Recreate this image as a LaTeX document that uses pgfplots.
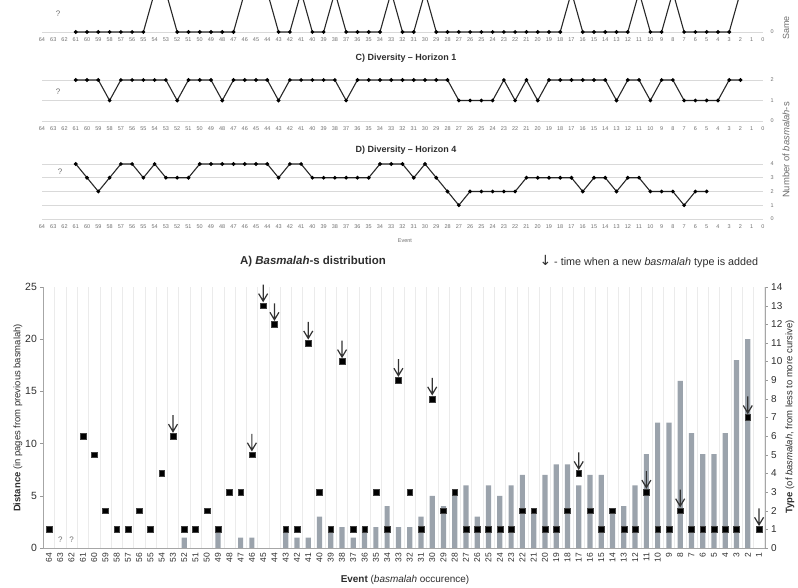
\documentclass[border=0pt]{standalone}
\usepackage{fontspec}
\setmainfont{Liberation Sans}
\newfontfamily\djv{DejaVu Sans}
\usepackage{pgfplots}
\pgfplotsset{compat=1.18}
\definecolor{bargray}{RGB}{155,163,172}
\definecolor{tickgray}{RGB}{110,110,110}
\definecolor{linegray}{RGB}{40,40,40}
\definecolor{txt}{RGB}{45,45,45}
\pgfdeclareplotmark{newtype}{%
 \pgfpathmoveto{\pgfpoint{0bp}{4.5bp}}\pgfpathlineto{\pgfpoint{0bp}{21bp}}%
 \pgfpathmoveto{\pgfpoint{-4.5bp}{12bp}}\pgfpathlineto{\pgfpoint{0bp}{4.5bp}}\pgfpathlineto{\pgfpoint{4.5bp}{12bp}}%
 \pgfusepathqstroke}
\pgfplotsset{
 toppanel/.style={scale only axis, width=721bp, xmin=0, xmax=64, x dir=reverse,
   axis line style={draw=none}, major tick length=0pt,
   xtick={0,...,64}, xticklabel style={font=\fontsize{5.5}{6}\selectfont, text=tickgray, inner sep=1.5bp},
   yticklabel pos=right, yticklabel style={font=\fontsize{5.5}{6}\selectfont, text=tickgray, xshift=4bp},
   ymajorgrids, grid style={black!15, line width=0.6bp},
   /pgf/number format/assume math mode=true,
   anchor=south west},
 topline/.style={linegray, line width=1.1bp, mark=*, mark size=1.3bp, mark options={fill=black, draw=black}},
 bottompanel/.style={scale only axis, width=721.3bp, height=261bp, at={(43.4bp,40bp)}, anchor=south west,
   xmin=0.5, xmax=64.5, x dir=reverse, /pgf/number format/assume math mode=true}
}
\begin{document}
\begin{tikzpicture}
\path[use as bounding box] (0,0) rectangle (798bp,588bp);
% ---------- B) Same
\begin{axis}[toppanel, at={(42bp,552bp)}, height=44bp, ymin=-0.1, ymax=1, ytick={0}]
\addplot[topline] coordinates {(61,0)(60,0)(59,0)(58,0)(57,0)(56,0)(55,0)(54,1)(53,1)(52,0)(51,0)(50,0)(49,0)(48,0)(47,0)(46,1)(45,1)(44,1)(43,0)(42,0)(41,1)(40,0)(39,0)(38,1)(37,0)(36,0)(35,0)(34,0)(33,1)(32,0)(31,0)(30,1)(29,0)(28,0)(27,0)(26,0)(25,0)(24,0)(23,0)(22,0)(21,0)(20,0)(19,0)(18,0)(17,1)(16,0)(15,0)(14,0)(13,0)(12,0)(11,1)(10,0)(9,0)(8,1)(7,0)(6,0)(5,0)(4,0)(3,0)(2,1)};
\end{axis}
% ---------- C) Horizon 1
\begin{axis}[toppanel, at={(42bp,462.9bp)}, height=45.1bp, ymin=-0.2, ymax=2, ytick={0,1,2}]
\addplot[topline] coordinates {(61,2)(60,2)(59,2)(58,1)(57,2)(56,2)(55,2)(54,2)(53,2)(52,1)(51,2)(50,2)(49,2)(48,1)(47,2)(46,2)(45,2)(44,2)(43,1)(42,2)(41,2)(40,2)(39,2)(38,2)(37,1)(36,2)(35,2)(34,2)(33,2)(32,2)(31,2)(30,2)(29,2)(28,2)(27,1)(26,1)(25,1)(24,1)(23,2)(22,1)(21,2)(20,1)(19,2)(18,2)(17,2)(16,2)(15,2)(14,2)(13,1)(12,2)(11,2)(10,1)(9,2)(8,2)(7,1)(6,1)(5,1)(4,1)(3,2)(2,2)};
\end{axis}
% ---------- D) Horizon 4
\begin{axis}[toppanel, at={(42bp,364.9bp)}, height=59.1bp, ymin=-0.3, ymax=4, ytick={0,...,4}]
\addplot[topline] coordinates {(61,4)(60,3)(59,2)(58,3)(57,4)(56,4)(55,3)(54,4)(53,3)(52,3)(51,3)(50,4)(49,4)(48,4)(47,4)(46,4)(45,4)(44,4)(43,3)(42,4)(41,4)(40,3)(39,3)(38,3)(37,3)(36,3)(35,3)(34,4)(33,4)(32,4)(31,3)(30,4)(29,3)(28,2)(27,1)(26,2)(25,2)(24,2)(23,2)(22,2)(21,3)(20,3)(19,3)(18,3)(17,3)(16,2)(15,3)(14,3)(13,2)(12,3)(11,3)(10,2)(9,2)(8,2)(7,1)(6,2)(5,2)};
\end{axis}
\node[font=\fontsize{8}{9}\selectfont, text=tickgray] at (58bp,574bp) {?};
\node[font=\fontsize{8}{9}\selectfont, text=tickgray] at (58bp,496bp) {?};
\node[font=\fontsize{8}{9}\selectfont, text=tickgray] at (60bp,416bp) {?};
\node[font=\bfseries\fontsize{9}{10}\selectfont, text=txt] at (406bp,530bp) {C) Diversity – Horizon 1};
\node[font=\bfseries\fontsize{9}{10}\selectfont, text=txt] at (406bp,438bp) {D) Diversity – Horizon 4};
\node[font=\fontsize{5.5}{6}\selectfont, text=tickgray] at (405bp,347bp) {Event};
\node[rotate=90, font=\fontsize{9}{10}\selectfont, text=tickgray] at (786bp,560bp) {Same};
\node[rotate=90, font=\fontsize{9.5}{11}\selectfont, text=tickgray] at (786bp,438bp) {Number of \textit{basmalah}-s};
% ---------- A) distribution : bars (left axis)
\begin{axis}[bottompanel, ymin=0, ymax=25, ybar, bar width=5.2bp,
  axis x line*=bottom, axis y line*=left, axis line style={black!35},
  xtick={1,...,64}, xtick style={draw=none},
  xticklabel style={rotate=90, anchor=east, font=\fontsize{8.5}{9}\selectfont, text=txt, inner sep=1.5bp},
  minor xtick={0.5,1.5,...,64.5}, xminorgrids, minor grid style={black!8},
  ytick={0,5,...,25}, ytick style={black!40}, major tick length=3bp, tick align=outside,
  yticklabel style={font=\fontsize{10.5}{12}\selectfont, text=txt}]
\addplot[fill=bargray, draw=none] coordinates {(52,1)(49,2)(47,1)(46,1)(43,2)(42,1)(41,1)(40,3)(39,2)(38,2)(37,1)(36,2)(35,2)(34,4)(33,2)(32,2)(31,3)(30,5)(29,4)(28,5)(27,6)(26,3)(25,6)(24,5)(23,6)(22,7)(21,3.7)(20,7)(19,8)(18,8)(17,6)(16,7)(15,7)(14,3.7)(13,4)(12,6)(11,9)(10,12)(9,12)(8,16)(7,11)(6,9)(5,9)(4,11)(3,18)(2,20)};
\end{axis}
% ---------- A) types (right axis)
\begin{axis}[bottompanel, ymin=0, ymax=14, axis x line=none, axis y line*=right, axis line style={black!35},
  ytick={0,...,14}, ytick style={black!40}, major tick length=3bp, tick align=outside,
  yticklabel style={font=\fontsize{10}{12}\selectfont, text=txt}]
\addplot[only marks, mark=square*, mark size=2.9bp, mark options={fill=black, draw=black!75}] coordinates {(64,1)(61,6)(60,5)(59,2)(58,1)(57,1)(56,2)(55,1)(54,4)(53,6)(52,1)(51,1)(50,2)(49,1)(48,3)(47,3)(46,5)(45,13)(44,12)(43,1)(42,1)(41,11)(40,3)(39,1)(38,10)(37,1)(36,1)(35,3)(34,1)(33,9)(32,3)(31,1)(30,8)(29,2)(28,3)(27,1)(26,1)(25,1)(24,1)(23,1)(22,2)(21,2)(20,1)(19,1)(18,2)(17,4)(16,2)(15,1)(14,2)(13,1)(12,1)(11,3)(10,1)(9,1)(8,2)(7,1)(6,1)(5,1)(4,1)(3,1)(2,7)(1,1)};
\addplot[only marks, mark=newtype, mark options={draw=black!80, line width=1.2bp}] coordinates {(53,6)(46,5)(45,13)(44,12)(41,11)(38,10)(33,9)(30,8)(17,4)(11,3)(8,2)(2,7)(1,1)};
\node[font=\fontsize{8}{9}\selectfont, text=tickgray] at (axis cs:63,0.45) {?};
\node[font=\fontsize{8}{9}\selectfont, text=tickgray] at (axis cs:62,0.45) {?};
\end{axis}
\node[font=\bfseries\fontsize{11.5}{13}\selectfont, text=txt] at (313bp,326bp) {A) \textit{Basmalah}-s distribution};
\node[anchor=west, font=\fontsize{10.8}{12}\selectfont, text=txt] at (536bp,326bp) {{\djv\fontsize{14}{15}\selectfont ↓} - time when a new \textit{basmalah} type is added};
\node[rotate=90, font=\fontsize{9.5}{11}\selectfont, text=txt] at (18bp,170bp) {\textbf{Distance} (in pages from previous basmalah)};
\node[rotate=90, font=\fontsize{9.5}{11}\selectfont, text=txt] at (790bp,171bp) {\textbf{Type} (of \textit{basmalah}, from less to more cursive)};
\node[font=\fontsize{10}{12}\selectfont, text=txt] at (405bp,8bp) {\textbf{Event} (\textit{basmalah} occurence)};
\end{tikzpicture}
\end{document}
